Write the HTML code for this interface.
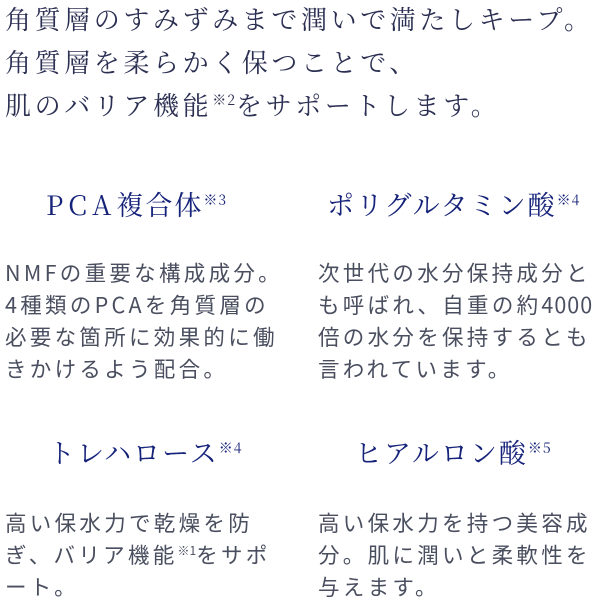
<!DOCTYPE html>
<html><head><meta charset="utf-8"><style>
html,body{margin:0;padding:0;background:#fff;width:601px;height:600px;overflow:hidden;position:relative}
sup{line-height:0}
.top{position:absolute;left:5px;top:-3px;font-family:"Noto Serif CJK SC",serif;font-size:26px;line-height:43px;letter-spacing:3.6px;color:#2b2f52;white-space:nowrap}
.h{position:absolute;font-family:"Noto Serif CJK SC",serif;font-size:27px;line-height:30px;color:#16237a;white-space:nowrap;letter-spacing:2px}
.h .l{letter-spacing:5px}
.h sup{font-size:14px;vertical-align:10px;letter-spacing:1px}
.b{position:absolute;font-family:"Noto Sans CJK JP",sans-serif;font-weight:400;font-size:21.5px;line-height:32px;letter-spacing:3.3px;color:#4a4f60;white-space:nowrap}
.b .n{letter-spacing:1px}
.b sup{font-size:12px;vertical-align:8px;letter-spacing:0}
.top sup{font-size:14px;vertical-align:10px;letter-spacing:1px}
</style></head><body>
<div class="top">角質層のすみずみまで潤いで満たしキープ。<br>角質層を柔らかく保つことで、<br>肌のバリア機能<sup>※2</sup>をサポートします。</div>

<div class="h" style="left:46px;top:189px"><span class="l">PCA</span>複合体<sup>※3</sup></div>
<div class="h" style="left:327px;top:189px">ポリグルタミン酸<sup>※4</sup></div>
<div class="h" style="left:48px;top:437px">トレハロース<sup>※4</sup></div>
<div class="h" style="left:355px;top:437px">ヒアルロン酸<sup>※5</sup></div>

<div class="b" style="left:5px;top:257px">NMFの重要な構成成分。<br>4種類のPCAを角質層の<br>必要な箇所に効果的に働<br>きかけるよう配合。</div>
<div class="b" style="left:318px;top:257px">次世代の水分保持成分と<br>も呼ばれ、自重の約<span class="n">4000</span><br>倍の水分を保持するとも<br>言われています。</div>
<div class="b" style="left:5px;top:507px">高い保水力で乾燥を防<br>ぎ、バリア機能<sup>※1</sup>をサポ<br>ート。</div>
<div class="b" style="left:318px;top:507px">高い保水力を持つ美容成<br>分。肌に潤いと柔軟性を<br>与えます。</div>
</body></html>
